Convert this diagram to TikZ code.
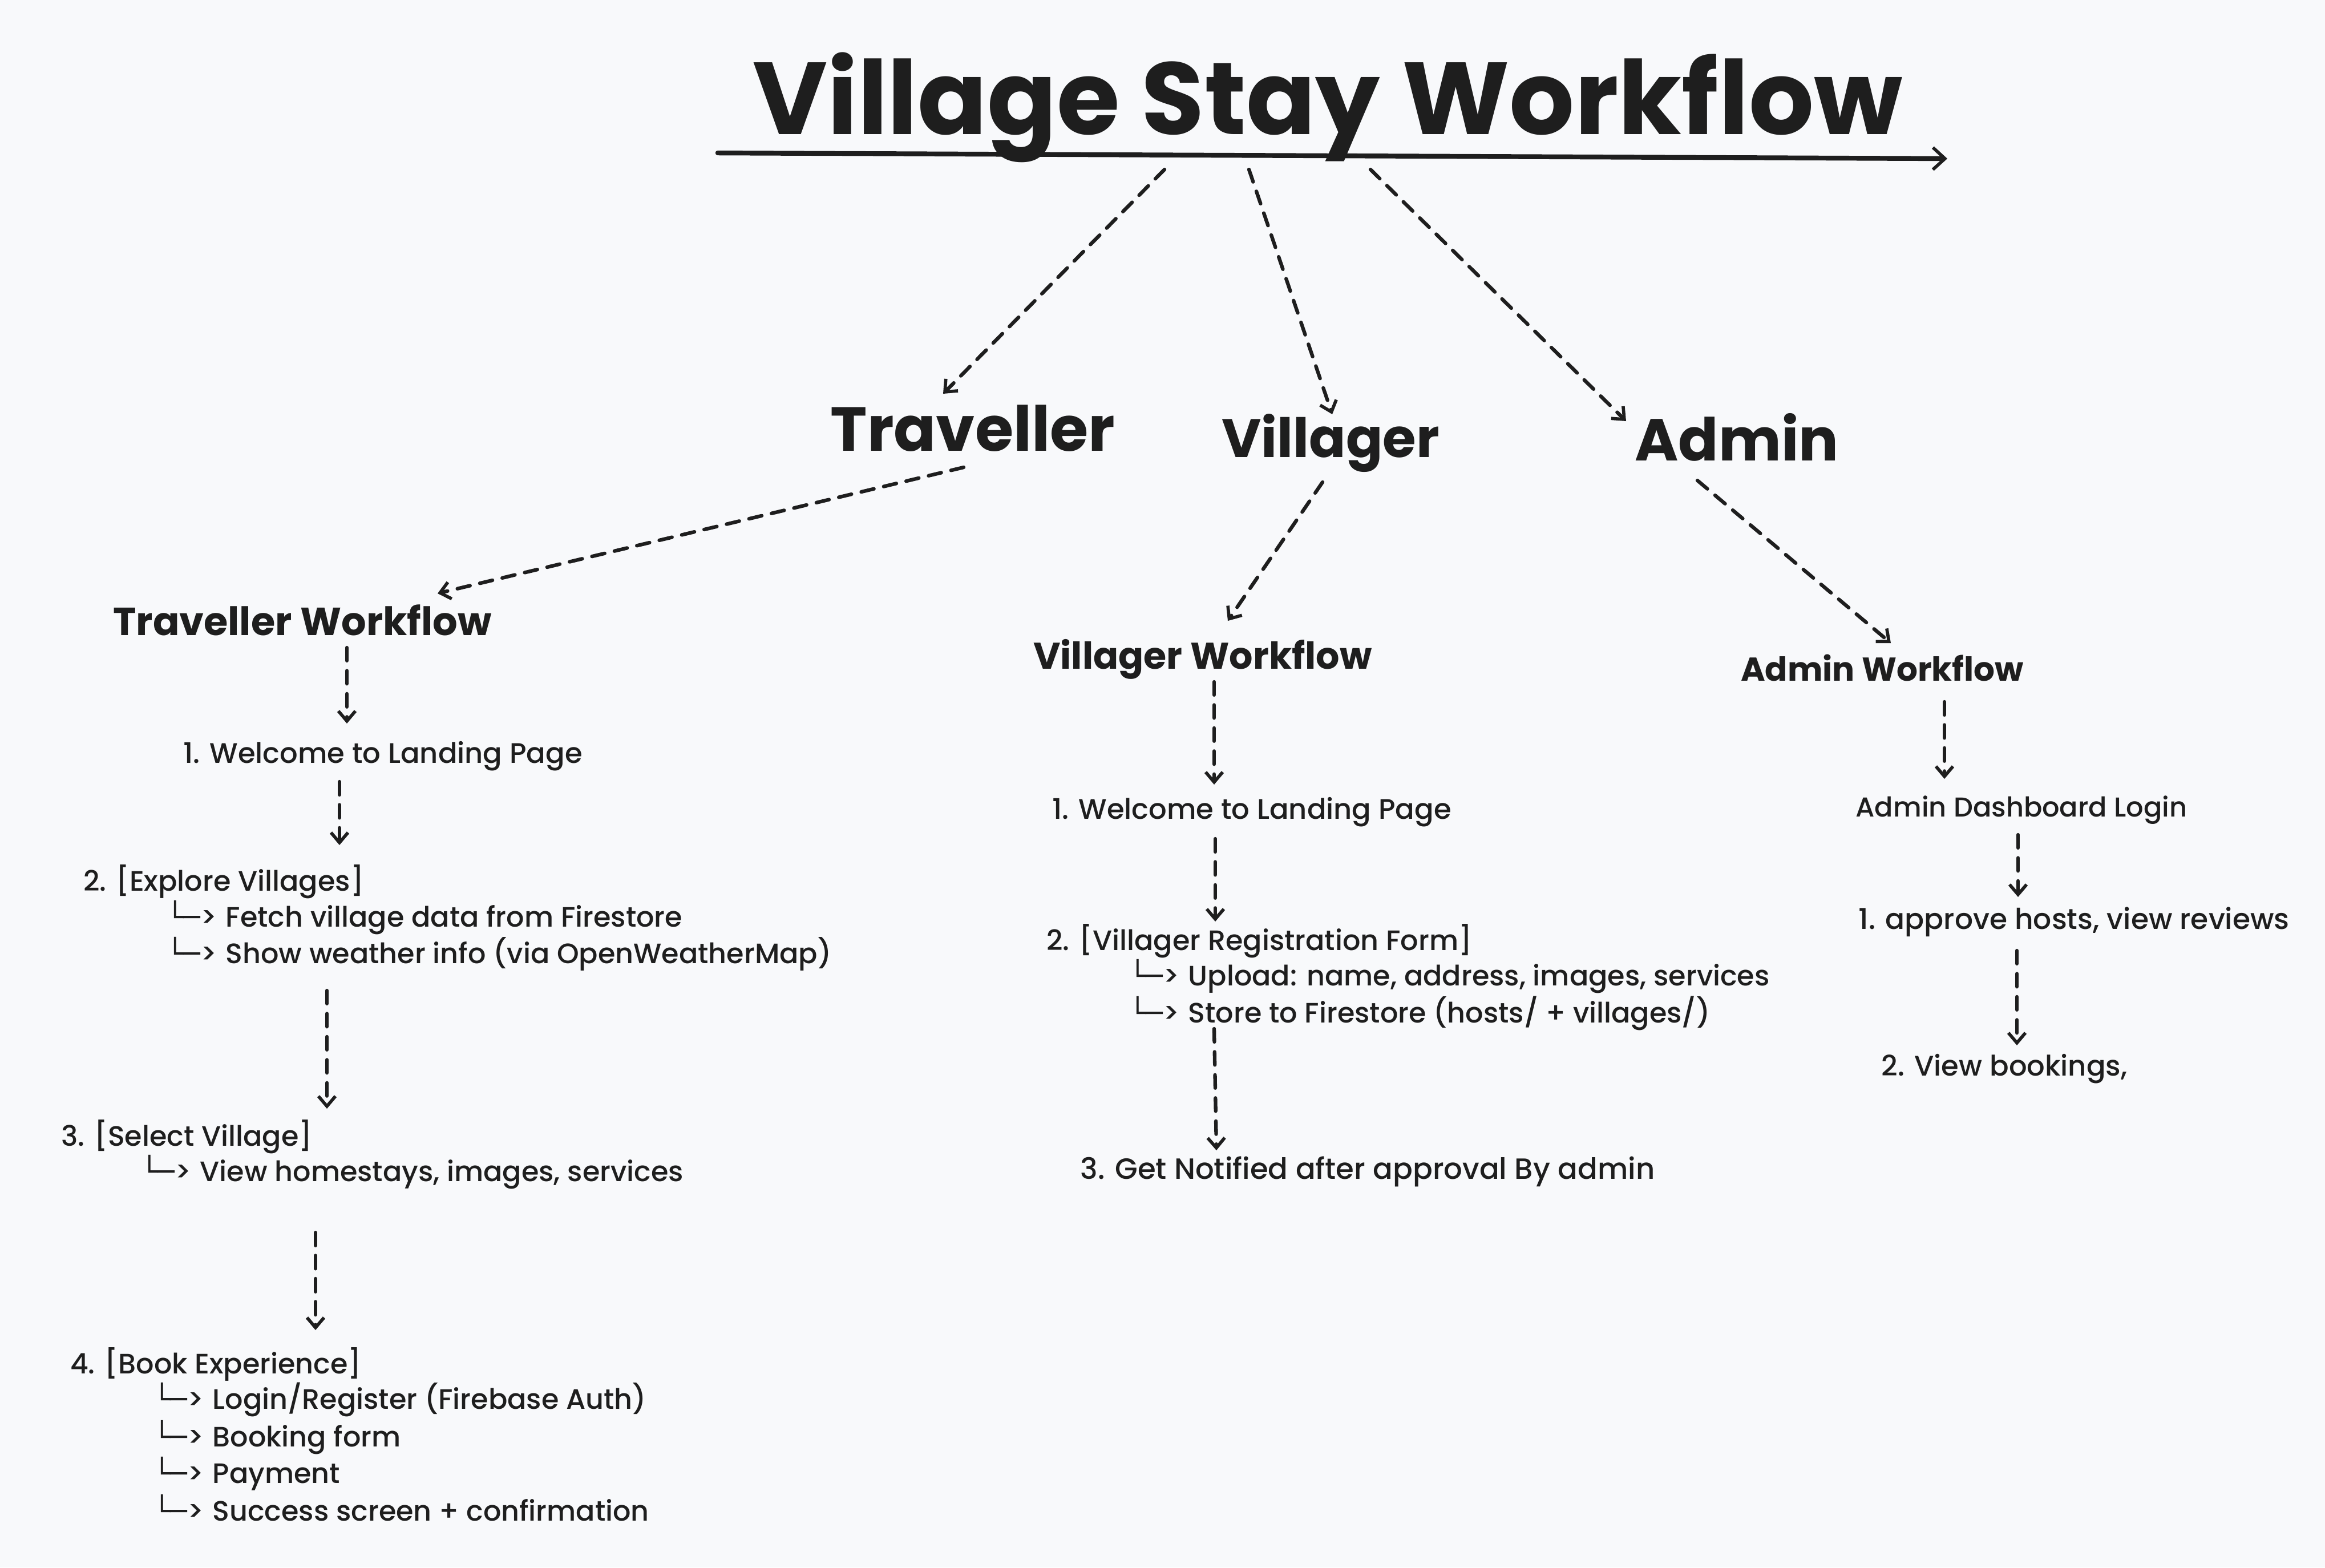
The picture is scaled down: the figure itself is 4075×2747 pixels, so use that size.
\documentclass[tikz,border=0pt]{standalone}
\usepackage{fontspec}
\setmainfont{Poppins}
\newfontfamily\bodyfont{Poppins Medium}
\newfontfamily\boxfont{DejaVu Sans}
\usetikzlibrary{arrows.meta,calc}
\definecolor{ink}{HTML}{1E1E1E}
\definecolor{paper}{HTML}{F8F9FB}
\newcommand\subarr{\makebox[29.5pt][l]{{\boxfont └─}>}}
\tikzset{
  lbl/.style={inner sep=0pt, outer sep=0pt, text=ink, anchor=base},
  lblw/.style={lbl, anchor=base west},
  titletext/.style={lbl, font=\fontsize{51}{60}\selectfont\bfseries},
  roletext/.style={lbl, font=\fontsize{#1}{#1}\selectfont\bfseries},
  wftext/.style={lbl, font=\fontsize{#1}{#1}\selectfont\bfseries},
  itemtext/.style={lbl, font=\bodyfont\fontsize{#1}{#1}\selectfont},
  steptext/.style={lblw, font=\bodyfont\fontsize{14}{17}\selectfont},
  flow/.style={draw=ink, line width=1.8pt, line cap=round, dash pattern=on 6.5pt off 5pt,
    -{Straight Barb[length=5pt,width=8.5pt,line width=1.6pt]}},
  mainline/.style={draw=ink, line width=2.4pt, line cap=round,
    -{Straight Barb[length=6pt,width=11pt,line width=1.6pt]}}
}
\begin{document}
\begin{tikzpicture}[x=0.01cm,y=-0.01cm]
\fill[paper] (0,0) rectangle (4075,2747);
\useasboundingbox (0,0) rectangle (4075,2747);

% title
\node[titletext] (title) at (2327,235) {Village Stay Workflow};
\draw[mainline] ($(title.base)+(-1069,33)$) -- ($(title.base)+(1086,43)$);

% roles
\node[roletext=31] (trav) at (1705,790) {Traveller};
\node[roletext=27] (vill) at (2332,801) {Villager};
\node[roletext=29.5] (adm) at (3044,807) {Admin};

\draw[flow] ($(title.base)+(-286,62)$) -- ($(trav.base)+(-52,-100)$);
\draw[flow] ($(title.base)+(-138,62)$) -- ($(vill.base)+(3,-75)$);
\draw[flow] ($(title.base)+(75,62)$) -- ($(adm.base)+(-194,-69)$);

% workflows
\node[wftext=19.5] (twf) at (530,1113) {Traveller Workflow};
\node[wftext=18.5] (vwf) at (2108,1172) {Villager Workflow};
\node[wftext=16.5] (awf) at (3299,1193) {Admin Workflow};

\draw[flow] ($(trav.base)+(-16,29)$) -- ($(twf.base)+(237,-73)$);
\draw[flow] ($(vill.base)+(-14,44)$) -- ($(vwf.base)+(44,-84)$);
\draw[flow] ($(adm.base)+(-69,35)$) -- ($(awf.base)+(15,-66)$);

% traveller column
\node[itemtext=14.1] (tw1) at (671,1337) {1. Welcome to Landing Page};
\node[steptext] (t2) at (146,1561) {2. [Explore Villages]};
\node[steptext] (t2a) at (292,1624) {\subarr Fetch village data from Firestore};
\node[steptext] (t2b) at (292,1688) {\subarr Show weather info (via OpenWeatherMap)};
\node[steptext] (t3) at (107,2008) {3. [Select Village]};
\node[steptext] (t3a) at (247,2070) {\subarr View homestays, images, services};
\node[steptext] (t4) at (123,2407) {4. [Book Experience]};
\node[steptext] (t4a) at (269,2469) {\subarr Login/Register (Firebase Auth)};
\node[steptext] (t4b) at (269,2535) {\subarr Booking form};
\node[steptext] (t4c) at (269,2599) {\subarr Payment};
\node[steptext] (t4d) at (269,2665) {\subarr Success screen + confirmation};

\draw[flow] ($(twf.base)+(78,22)$) -- ($(tw1.base)+(-63,-69)$);
\draw[flow] ($(tw1.base)+(-76,33)$) -- ($(t2.base west)+(449,-80)$);
\draw[flow] ($(t2b.base west)+(281,48)$) -- ($(t3.base west)+(466,-65)$);
\draw[flow] ($(t3a.base west)+(306,90)$) -- ($(t4.base west)+(430,-76)$);

% villager column
\node[itemtext=14.1] (vw1) at (2194,1435) {1. Welcome to Landing Page};
\node[steptext] (v2) at (1834,1665) {2. [Villager Registration Form]};
\node[steptext] (v2a) at (1979,1727) {\subarr Upload: name, address, images, services};
\node[steptext] (v2b) at (1979,1792) {\subarr Store to Firestore (hosts/ + villages/)};
\node[itemtext=14.6] (vn) at (2397,2066) {3. Get Notified after approval By admin};

\draw[flow] ($(vwf.base)+(20,23)$) -- ($(vw1.base)+(-66,-60)$);
\draw[flow] ($(vw1.base)+(-64,35)$) -- ($(v2.base west)+(296,-50)$);
\draw[flow] ($(v2b.base west)+(149,11)$) -- ($(vn.base)+(-265,-50)$);

% admin column
\node[itemtext=13.6] (ad) at (3543,1431) {Admin Dashboard Login};
\node[itemtext=14.3] (ap) at (3635,1628) {1. approve hosts, view reviews};
\node[itemtext=14.1] (vb) at (3513,1885) {2. View bookings,};

\draw[flow] ($(awf.base)+(109,37)$) -- ($(ad.base)+(-135,-66)$);
\draw[flow] ($(ad.base)+(-6,32)$) -- ($(ap.base)+(-98,-56)$);
\draw[flow] ($(ap.base)+(-100,38)$) -- ($(vb.base)+(22,-53)$);
\end{tikzpicture}
\end{document}
